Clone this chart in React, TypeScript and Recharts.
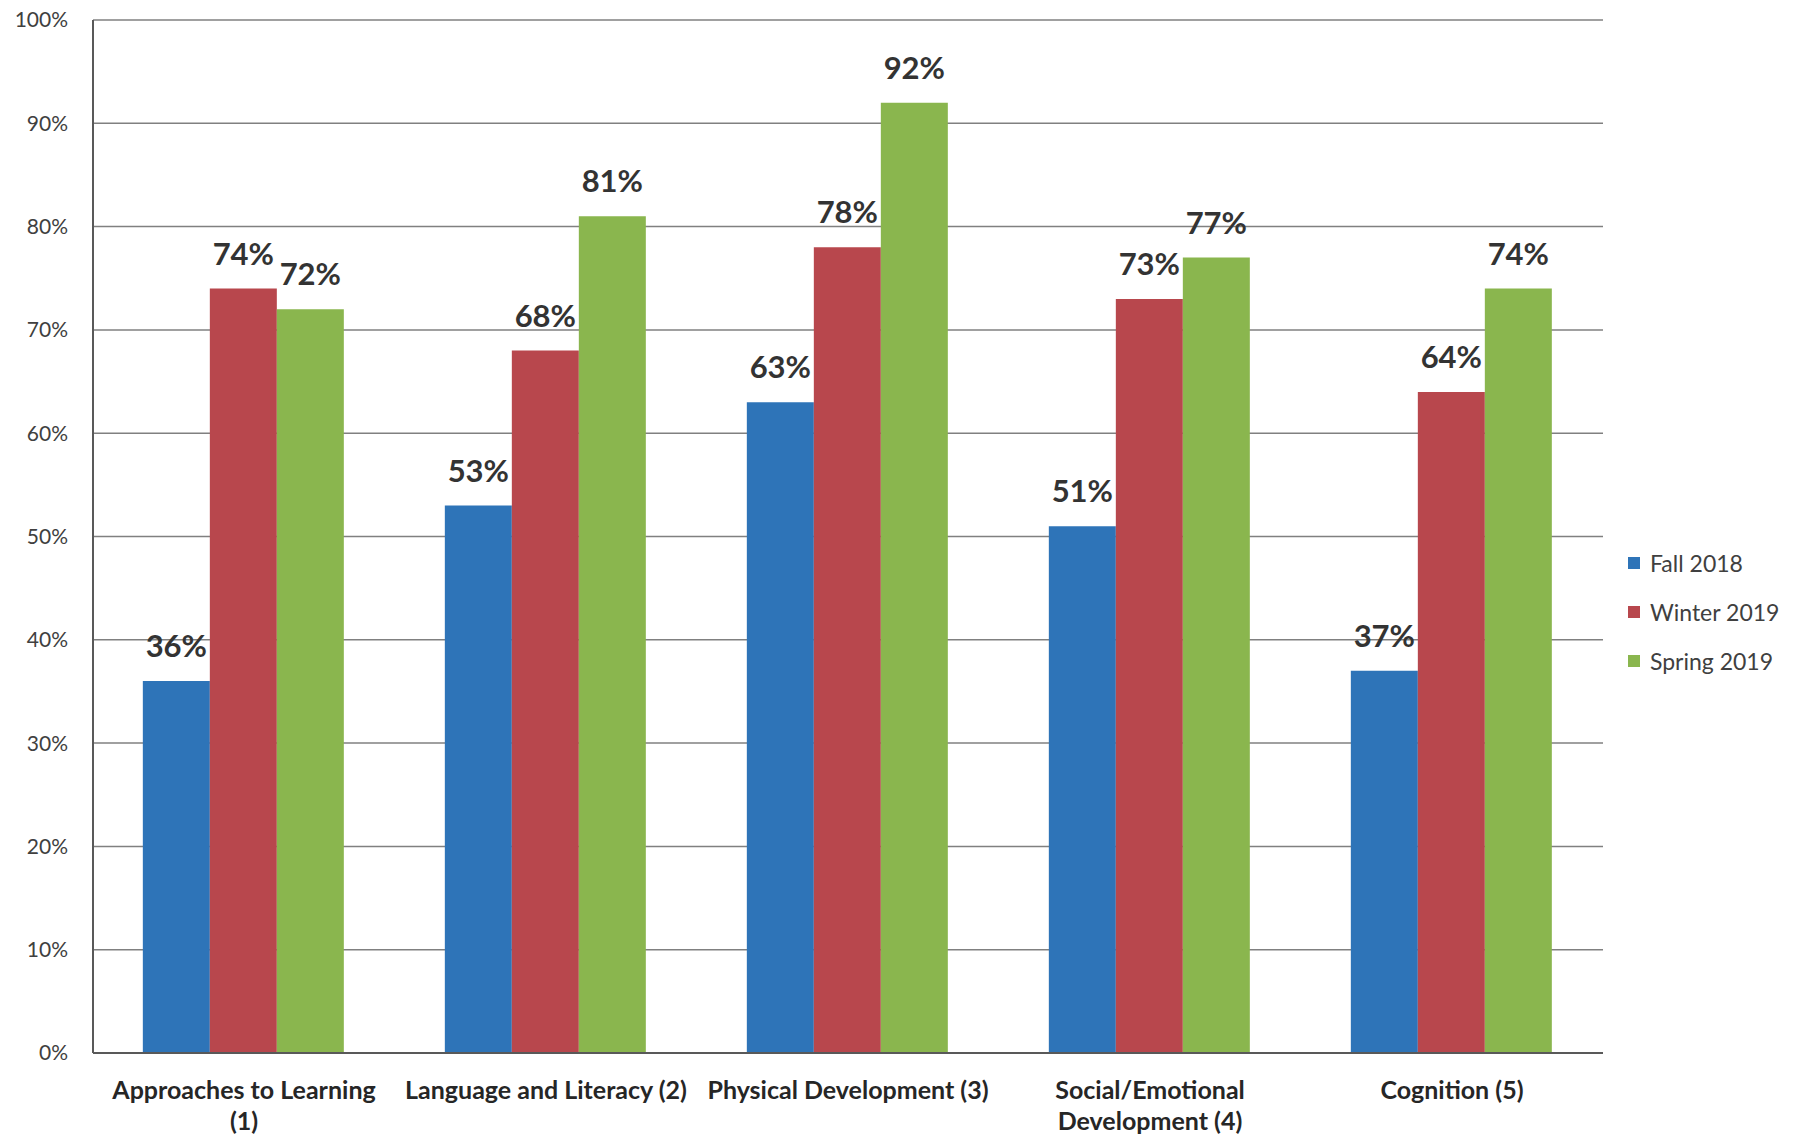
import React from 'react';
import { BarChart, Bar, XAxis, YAxis, CartesianGrid, LabelList } from 'recharts';

const categories = [
  'Approaches to Learning (1)',
  'Language and Literacy (2)',
  'Physical Development (3)',
  'Social/Emotional Development (4)',
  'Cognition (5)',
];
const fall2018 = [36, 53, 63, 51, 37];
const winter2019 = [74, 68, 78, 73, 64];
const spring2019 = [72, 81, 92, 77, 74];
const yTicks = [0, 10, 20, 30, 40, 50, 60, 70, 80, 90, 100];

const series = [
  { key: 'fall', name: 'Fall 2018', color: '#2E74B8', values: fall2018 },
  { key: 'winter', name: 'Winter 2019', color: '#B8474D', values: winter2019 },
  { key: 'spring', name: 'Spring 2019', color: '#8AB64E', values: spring2019 },
];

const data = categories.map((name, i) => {
  const row: any = { name };
  series.forEach(s => { row[s.key] = s.values[i]; });
  return row;
});

const FONT = 'Lato, "Open Sans", sans-serif';
const CAT_SIZE = 25;
const valueFont = { fontFamily: FONT, fontWeight: 700, fontSize: 31 };

// word wrap measured with a canvas, since the axis text doesn't wrap by itself
let ctx: CanvasRenderingContext2D | null = null;
const wrapLabel = (text: string, maxWidth: number) => {
  if (!ctx) ctx = document.createElement('canvas').getContext('2d');
  if (!ctx) return [text];
  ctx.font = `700 ${CAT_SIZE}px ${FONT}`;
  const lines: string[] = [];
  let cur = '';
  text.split(' ').forEach(w => {
    const next = cur ? `${cur} ${w}` : w;
    if (cur && ctx!.measureText(next).width > maxWidth) {
      lines.push(cur);
      cur = w;
    } else {
      cur = next;
    }
  });
  if (cur) lines.push(cur);
  return lines;
};

const CategoryTick = (props: any) => {
  const { x, y, payload } = props;
  const lines = wrapLabel(String(payload.value), 290);
  return (
    <text
      x={x}
      y={y}
      textAnchor="middle"
      fill="#262626"
      style={{ fontFamily: FONT, fontWeight: 700, fontSize: CAT_SIZE }}
    >
      {lines.map((line, i) => (
        <tspan key={i} x={x} dy={i === 0 ? 18 : 31}>{line}</tspan>
      ))}
    </text>
  );
};

const App: React.FC = () => {
  return (
    <div style={{ position: 'absolute', left: 0, top: 0, width: 1806, height: 1141, background: '#fff' }}>
      <BarChart
        width={1806}
        height={1141}
        data={data}
        margin={{ top: 20, right: 203, left: 0, bottom: 0 }}
        barCategoryGap="16.5%"
        barGap={0}
      >
        <CartesianGrid vertical={false} stroke="#808080" strokeWidth={1.5} />
        <XAxis
          dataKey="name"
          height={88}
          tickLine={false}
          tickSize={0}
          tickMargin={28}
          axisLine={{ stroke: '#595959', strokeWidth: 2 }}
          tick={(p: any) => <CategoryTick key={p.index} {...p} />}
          interval={0}
        />
        <YAxis
          width={93}
          domain={[0, 100]}
          ticks={yTicks}
          tickFormatter={(v: number) => `${v}%`}
          tickLine={false}
          tickSize={0}
          tickMargin={25}
          axisLine={{ stroke: '#595959', strokeWidth: 2 }}
          tick={{ fill: '#404040', fontSize: 21, fontFamily: FONT }}
          interval={0}
        />
        {series.map(s => (
          <Bar key={s.key} dataKey={s.key} name={s.name} fill={s.color} isAnimationActive={false}>
            <LabelList
              dataKey={s.key}
              position="top"
              offset={24}
              formatter={(v: any) => `${v}%`}
              fill="#333333"
              style={valueFont}
            />
          </Bar>
        ))}
      </BarChart>
      <div style={{ position: 'absolute', left: 1628, top: 538, fontFamily: FONT, fontSize: 23, color: '#404040' }}>
        {series.map(s => (
          <div key={s.key} style={{ display: 'flex', alignItems: 'center', height: 49 }}>
            <span style={{ display: 'inline-block', width: 12, height: 12, background: s.color, marginRight: 10 }} />
            <span>{s.name}</span>
          </div>
        ))}
      </div>
    </div>
  );
};

export default App;
